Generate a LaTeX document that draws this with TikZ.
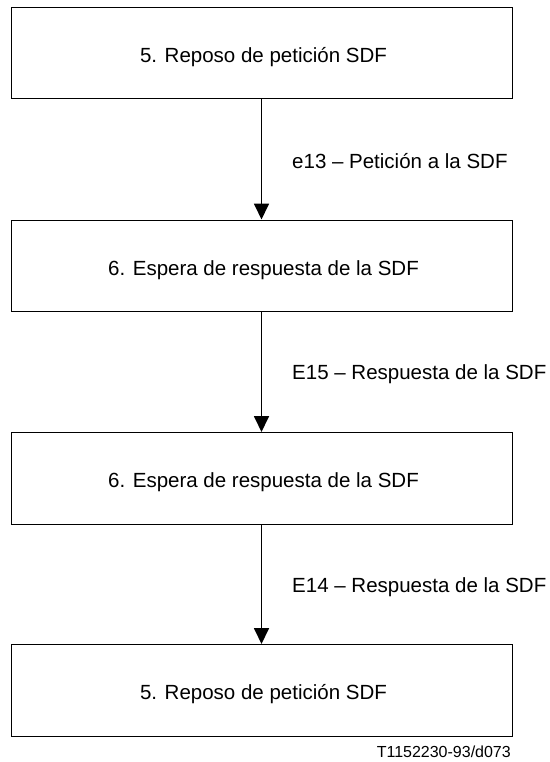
\documentclass[tikz,border=0pt]{standalone}
\usepackage{fontspec}
\setmainfont{Liberation Sans}
\usetikzlibrary{arrows.meta}
\begin{document}
\begin{tikzpicture}[x=1pt,y=-1pt,
  statebox/.style={draw, line width=1pt, minimum width=501pt, minimum height=91.5pt, inner sep=0pt},
  boxtext/.style={inner sep=0pt, font=\fontsize{20.5}{24}\selectfont},
  flow/.style={line width=1.8pt, -{Triangle[length=16pt,width=15pt]}},
  lbl/.style={anchor=base west, inner sep=0pt, font=\fontsize{20.5}{24}\selectfont}]
\useasboundingbox (0,0) rectangle (549,762);
\node[statebox] (s1) at (261.5,53.25) {};
\node[statebox] (s2) at (261.5,265.75) {};
\node[statebox] (s3) at (261.5,478.25) {};
\node[statebox] (s4) at (261.5,690.25) {};
\node[boxtext] (t1) at ([xshift=2pt,yshift=-4pt]s1.center) {5. Reposo de petición SDF};
\node[boxtext] (t2) at ([xshift=2pt,yshift=-4pt]s2.center) {6. Espera de respuesta de la SDF};
\node[boxtext] (t3) at ([xshift=2pt,yshift=-4pt]s3.center) {6. Espera de respuesta de la SDF};
\node[boxtext] (t4) at ([xshift=2pt,yshift=-4pt]s4.center) {5. Reposo de petición SDF};
\draw[flow] (s1) -- (s2);
\draw[flow] (s2) -- (s3);
\draw[flow] (s3) -- (s4);
\node[lbl] (l1) at (292,168) {e13 – Petición a la SDF};
\node[lbl] (l2) at (292,379) {E15 – Respuesta de la SDF};
\node[lbl] (l3) at (292,592) {E14 – Respuesta de la SDF};
\node[anchor=base east, inner sep=0pt, font=\fontsize{16}{18}\selectfont] (ref) at (511,757) {T1152230-93/d073};
\end{tikzpicture}
\end{document}
